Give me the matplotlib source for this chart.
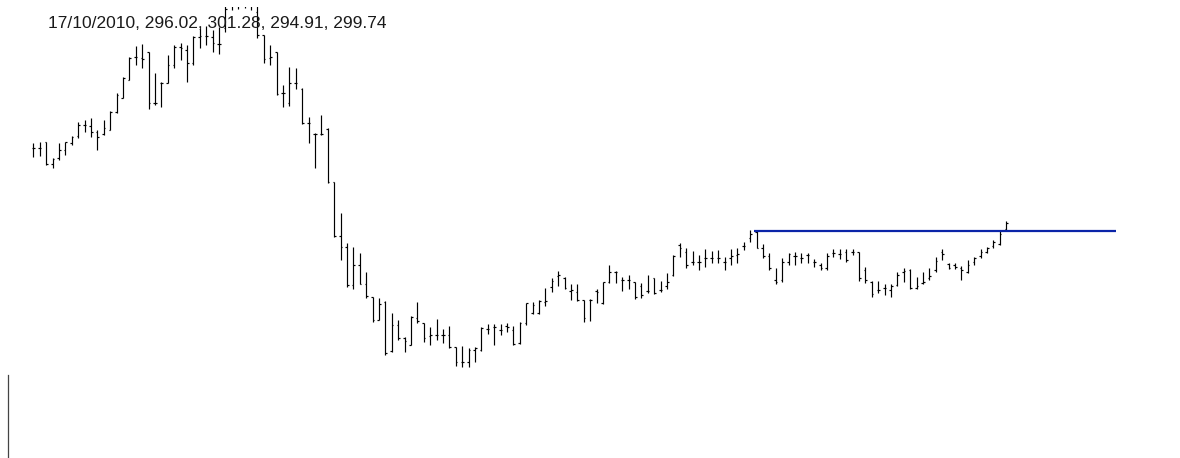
import numpy as np
import matplotlib
matplotlib.use("Agg")
import matplotlib.pyplot as plt
from matplotlib.lines import Line2D

plt.rcParams['font.family'] = ['Liberation Sans', 'DejaVu Sans']

# OHLC values, one bar per trading day
highs = [
    348.7, 349.2, 349.2, 341.0, 348.7, 349.2, 352.0, 359.2, 360.0, 360.9,
    355.0, 360.0, 364.5, 373.4, 381.7, 391.7, 397.0, 398.0, 394.2, 383.4,
    379.2, 392.5, 397.5, 398.7, 397.5, 402.0, 405.9, 407.0, 405.0, 406.7,
    418.5, 425.0, 428.0, 430.0, 426.0, 420.0, 402.5, 397.5, 394.2, 377.5,
    386.7, 385.9, 375.9, 361.7, 353.4, 362.5, 355.9, 329.2, 313.4, 298.5,
    296.7, 293.7, 284.0, 271.7, 270.9, 269.3, 263.4, 260.0, 251.5, 262.0,
    269.2, 258.7, 256.4, 260.4, 255.4, 257.0, 246.4, 247.0, 245.9, 246.7,
    256.4, 258.0, 258.0, 258.0, 258.4, 257.0, 259.2, 268.7, 269.2, 270.0,
    275.9, 280.9, 284.7, 281.7, 278.0, 278.0, 270.2, 270.4, 275.3, 279.2,
    287.5, 284.7, 281.7, 282.5, 279.0, 278.5, 282.7, 281.0, 279.7, 283.7,
    292.5, 298.7, 295.9, 294.7, 292.5, 295.4, 294.7, 295.0, 291.4, 295.4,
    295.9, 299.2, 305.2, 304.5, 298.0, 293.4, 285.9, 290.9, 293.7, 294.2,
    293.7, 293.7, 290.4, 288.7, 293.4, 295.4, 295.4, 295.4, 295.4, 294.2,
    286.4, 279.7, 279.7, 278.0, 278.0, 284.2, 285.9, 285.4, 281.7, 284.2,
    285.9, 291.7, 295.4, 288.7, 288.4, 287.0, 290.0, 291.7, 295.4, 296.7,
    300.0, 305.0, 309.7,
]
lows = [
    341.7, 342.0, 337.5, 335.9, 340.0, 342.5, 347.5, 350.9, 354.2, 351.4,
    345.0, 352.5, 355.0, 363.4, 370.9, 380.0, 387.5, 385.9, 365.5, 367.5,
    366.7, 378.4, 385.9, 390.0, 379.2, 387.5, 395.9, 397.5, 394.2, 393.0,
    404.2, 415.0, 415.5, 416.0, 415.0, 400.9, 388.4, 387.5, 372.5, 366.4,
    367.0, 375.4, 358.0, 348.4, 335.9, 352.5, 328.7, 301.7, 290.0, 276.5,
    275.4, 278.0, 271.0, 259.2, 260.0, 242.5, 244.2, 250.0, 244.2, 247.5,
    258.7, 249.2, 247.5, 250.0, 248.4, 245.9, 237.0, 236.7, 236.7, 239.2,
    244.7, 253.0, 247.5, 252.5, 253.8, 247.5, 248.0, 257.7, 263.2, 263.2,
    267.0, 274.2, 277.2, 275.5, 270.0, 269.7, 259.0, 259.5, 268.5, 267.9,
    278.5, 278.5, 274.5, 275.5, 270.5, 270.9, 273.4, 273.0, 274.0, 275.7,
    282.0, 291.7, 285.9, 287.5, 285.0, 286.7, 288.4, 288.4, 285.0, 287.5,
    288.7, 295.0, 299.0, 295.9, 290.9, 285.0, 278.0, 279.2, 287.5, 287.5,
    288.4, 288.7, 286.7, 285.0, 285.0, 291.7, 290.4, 289.2, 292.5, 279.7,
    278.7, 271.4, 273.4, 272.5, 271.4, 277.0, 279.2, 275.4, 275.4, 278.0,
    280.0, 284.2, 290.0, 285.4, 285.4, 280.0, 283.4, 287.5, 290.9, 293.4,
    295.9, 297.5, 305.0,
]
opens = [
    346.0, 346.0, 349.0, 338.0, 341.0, 345.0, 348.5, 352.0, 357.5, 357.0,
    354.0, 353.0, 355.0, 364.0, 371.0, 380.0, 391.5, 391.0, 394.0, 368.5,
    378.5, 378.5, 387.5, 396.5, 395.0, 388.5, 401.5, 402.0, 401.5, 398.0,
    406.0, 418.0, 420.0, 424.0, 422.0, 414.0, 402.5, 391.0, 394.0, 373.5,
    368.5, 378.5, 375.5, 358.5, 353.0, 353.0, 355.5, 329.0, 302.0, 296.5,
    277.5, 287.5, 278.0, 271.5, 260.0, 269.0, 244.5, 257.5, 251.0, 247.5,
    261.0, 258.5, 252.0, 252.5, 252.5, 252.5, 246.5, 239.0, 239.0, 245.0,
    245.0, 255.5, 256.5, 255.0, 257.0, 255.0, 248.5, 258.5, 263.5, 263.5,
    269.0, 276.5, 282.0, 281.0, 274.5, 274.0, 270.0, 270.0, 274.5, 268.5,
    279.0, 284.0, 280.0, 280.0, 279.0, 277.0, 274.5, 281.0, 275.0, 277.0,
    282.5, 297.5, 294.0, 289.0, 289.0, 291.0, 291.0, 291.0, 289.0, 291.0,
    292.5, 297.0, 301.0, 304.0, 296.0, 292.0, 280.0, 280.0, 289.0, 292.0,
    291.0, 292.5, 289.0, 287.5, 286.0, 293.5, 293.0, 294.0, 294.0, 294.0,
    285.0, 279.0, 275.0, 276.0, 275.0, 277.5, 284.0, 285.0, 276.0, 278.5,
    281.0, 285.0, 294.0, 288.0, 287.5, 286.0, 284.0, 289.0, 292.0, 294.0,
    297.0, 298.0, 305.5,
]
closes = [
    346.0, 346.0, 338.0, 340.5, 345.0, 349.0, 351.5, 357.5, 357.5, 354.0,
    351.5, 356.0, 364.0, 372.5, 381.0, 391.0, 391.5, 390.5, 368.5, 368.5,
    378.5, 387.5, 396.7, 396.0, 388.5, 401.5, 402.0, 402.0, 398.4, 398.0,
    415.5, 421.0, 424.0, 422.0, 418.0, 402.5, 390.5, 391.5, 373.0, 373.5,
    378.5, 378.5, 358.5, 358.5, 353.0, 353.0, 329.0, 302.0, 296.5, 277.5,
    287.5, 278.0, 272.0, 260.0, 268.0, 243.5, 257.5, 251.0, 249.5, 261.5,
    259.5, 251.0, 252.5, 252.5, 252.5, 246.5, 239.0, 239.0, 245.0, 246.0,
    256.0, 255.5, 256.5, 255.0, 256.5, 248.0, 258.5, 268.5, 267.5, 269.5,
    269.5, 279.5, 282.5, 276.0, 275.0, 270.0, 261.0, 270.0, 274.0, 279.0,
    284.0, 284.0, 280.0, 280.0, 271.7, 272.5, 274.5, 273.5, 275.0, 279.0,
    292.0, 296.0, 287.5, 289.0, 289.0, 291.0, 291.0, 291.0, 289.0, 292.0,
    293.0, 297.0, 303.0, 296.0, 292.0, 286.0, 279.0, 289.0, 293.0, 292.0,
    291.0, 292.5, 289.0, 286.0, 292.0, 293.5, 293.0, 290.0, 294.0, 281.0,
    280.0, 273.0, 275.0, 276.0, 277.0, 282.5, 284.5, 276.0, 277.0, 279.0,
    282.0, 289.5, 293.0, 286.0, 286.5, 285.0, 287.5, 291.0, 294.0, 296.0,
    299.0, 303.0, 308.5,
]

# resistance line drawn on the chart
resistance_level = 304.5
resistance_from = 112.6
resistance_to = 169.2

info_text = "17/10/2010, 296.02, 301.28, 294.91, 299.74"

W, H = 1180, 458
fig = plt.figure(figsize=(W / 100, H / 100), dpi=100)
fig.patch.set_facecolor("white")
ax = fig.add_axes([0, 0, 1, (H - 7) / H])  # plot area clipped a few px below the top

x = np.arange(len(highs))
tick = 0.25
bar_kw = dict(colors="black", linewidth=0.85)
ax.vlines(x, lows, highs, **bar_kw)
ax.hlines(opens, x - tick, x, **bar_kw)
ax.hlines(closes, x, x + tick, **bar_kw)

ax.hlines(resistance_level, resistance_from, resistance_to, colors="#0a24a8", linewidth=1.6)

ax.set_xlim(-33.3 / 6.4, (W - 33.3) / 6.4)
ax.set_ylim(191, 416.5)
ax.axis("off")

fig.text(48 / W, 1 - 28.3 / H, info_text, fontsize=12.5, color="#1a1a1a", va="baseline", ha="left")

# small axis stub at the bottom left
fig.add_artist(Line2D([8.3 / W, 8.3 / W], [0, 1 - 375 / H], color="#444444", linewidth=0.9))

fig.savefig("out.png", dpi=100, facecolor="white")
